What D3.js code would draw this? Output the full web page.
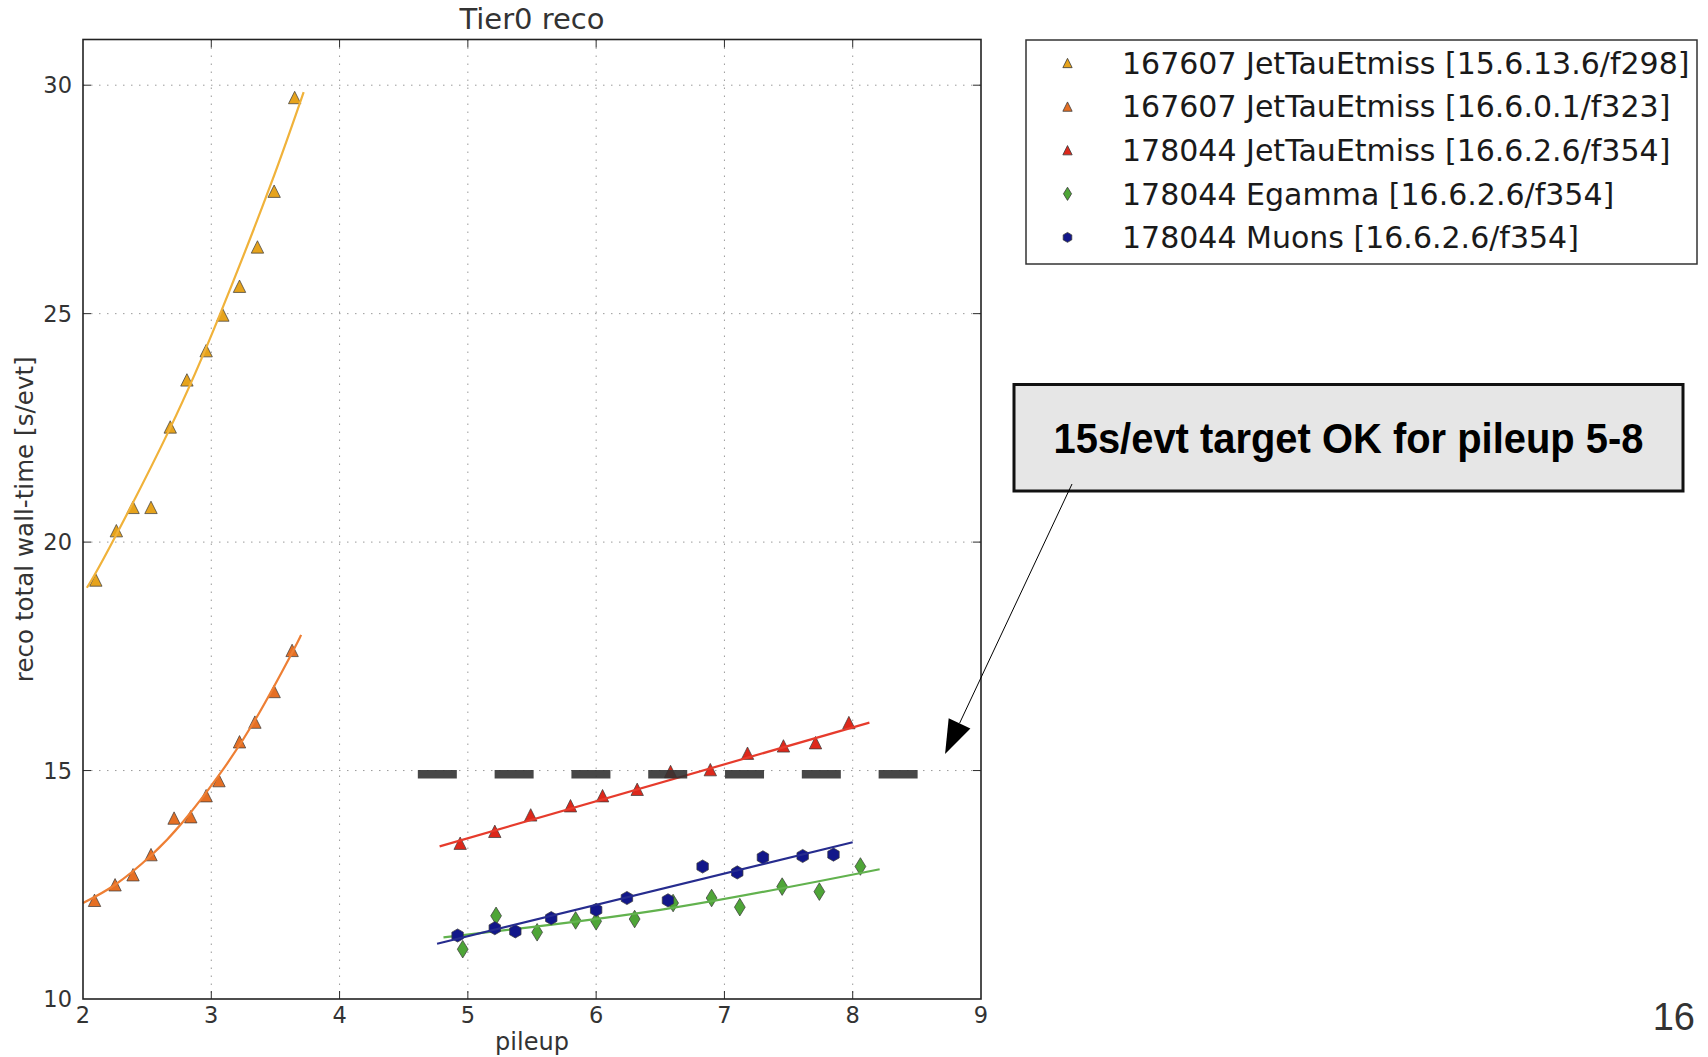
<!DOCTYPE html>
<html>
<head>
<meta charset="utf-8">
<script src="https://cdnjs.cloudflare.com/ajax/libs/d3/7.8.5/d3.min.js"></script>
<style>
  body { margin: 0; background: #fff; }
  svg { display: block; font-family: "DejaVu Sans", sans-serif; }
</style>
</head>
<body>
<svg id="chart" width="1708" height="1057"></svg>
<script>
// values
var labels = [
  '167607 JetTauEtmiss [15.6.13.6/f298]',
  '167607 JetTauEtmiss [16.6.0.1/f323]',
  '178044 JetTauEtmiss [16.6.2.6/f354]',
  '178044 Egamma [16.6.2.6/f354]',
  '178044 Muons [16.6.2.6/f354]'
];

var xTicks = [2, 3, 4, 5, 6, 7, 8, 9];
var yTicks = [10, 15, 20, 25, 30];

var jetOldX = [2.10, 2.26, 2.39, 2.53, 2.68, 2.81, 2.96, 3.09, 3.22, 3.36, 3.49, 3.65];
var jetOldY = [19.17, 20.25, 20.76, 20.76, 22.52, 23.55, 24.19, 24.97, 25.60, 26.46, 27.68, 29.73];
var jetOldFitX = [2.03, 2.21, 2.68, 3.07, 3.46, 3.72];
var jetOldFitY = [19.0, 19.9, 22.5, 25.0, 27.8, 29.85];

var jetMidX = [2.09, 2.25, 2.39, 2.53, 2.71, 2.84, 2.96, 3.06, 3.22, 3.34, 3.49, 3.63];
var jetMidY = [12.16, 12.50, 12.72, 13.16, 13.96, 13.99, 14.45, 14.78, 15.63, 16.06, 16.73, 17.63];
var jetMidFitX = [2.0, 2.25, 2.53, 2.78, 3.06, 3.34, 3.63, 3.70];
var jetMidFitY = [12.10, 12.50, 13.14, 13.88, 14.90, 16.10, 17.58, 17.97];

var jetNewX = [4.94, 5.21, 5.49, 5.80, 6.05, 6.32, 6.58, 6.89, 7.18, 7.46, 7.71, 7.97];
var jetNewY = [13.41, 13.67, 14.03, 14.23, 14.45, 14.59, 14.98, 15.02, 15.38, 15.54, 15.61, 16.05];
var jetNewFitX = [4.78, 8.13];
var jetNewFitY = [13.34, 16.05];

var egammaX = [4.96, 5.22, 5.54, 5.84, 6.00, 6.30, 6.60, 6.90, 7.12, 7.45, 7.74, 8.06];
var egammaY = [11.09, 11.82, 11.46, 11.72, 11.70, 11.75, 12.10, 12.21, 12.01, 12.46, 12.35, 12.90];
var egammaFitX = [4.81, 6.5, 8.21];
var egammaFitY = [11.35, 11.95, 12.84];

var muonsX = [4.92, 5.21, 5.37, 5.65, 6.00, 6.24, 6.56, 6.83, 7.10, 7.30, 7.61, 7.85];
var muonsY = [11.39, 11.55, 11.48, 11.77, 11.95, 12.21, 12.16, 12.90, 12.77, 13.10, 13.13, 13.16];
var muonsFitX = [4.76, 8.0];
var muonsFitY = [11.21, 13.43];

var targetX = [4.61, 8.51];
var targetY = 14.92;

var noteText = '15s/evt target OK for pileup 5-8';

var series = [
  { label: labels[0], xs: jetOldX, ys: jetOldY, fx: jetOldFitX, fy: jetOldFitY, marker: 'triangle', fill: '#e6a31c', line: '#f0b23a' },
  { label: labels[1], xs: jetMidX, ys: jetMidY, fx: jetMidFitX, fy: jetMidFitY, marker: 'triangle', fill: '#e56f24', line: '#ee7f34' },
  { label: labels[2], xs: jetNewX, ys: jetNewY, fx: jetNewFitX, fy: jetNewFitY, marker: 'triangle', fill: '#dd281b', line: '#e63b2c' },
  { label: labels[3], xs: egammaX, ys: egammaY, fx: egammaFitX, fy: egammaFitY, marker: 'diamond', fill: '#4ea537', line: '#62b24e' },
  { label: labels[4], xs: muonsX, ys: muonsY, fx: muonsFitX, fy: muonsFitY, marker: 'hexagon', fill: '#12178a', line: '#262c8e' }
];

var svg = d3.select('#chart');

// plot box in pixels (window.top is reserved, so no bare "top")
var plotLeft = 83, plotRight = 981, plotTop = 39.5, plotBottom = 999;

var x = d3.scaleLinear().domain([2, 9]).range([plotLeft, plotRight]);
var y = d3.scaleLinear().domain([10, 31]).range([plotBottom, plotTop]);

function markerPath(kind, k) {
  var s;
  if (kind === 'triangle') {
    s = 6.2 * k;
    return 'M0,' + (-s) + 'L' + s + ',' + s + 'L' + (-s) + ',' + s + 'Z';
  }
  if (kind === 'diamond') {
    var h = 8.8 * k, w = 5.4 * k;
    return 'M0,' + (-h) + 'L' + w + ',0L0,' + h + 'L' + (-w) + ',0Z';
  }
  // hexagon with a point on top
  var r = 6.6 * k;
  var pts = d3.range(6).map(function(i) {
    var a = -Math.PI / 2 + i * Math.PI / 3;
    return [r * Math.cos(a), r * Math.sin(a)];
  });
  return 'M' + pts.map(function(p) { return p[0].toFixed(2) + ',' + p[1].toFixed(2); }).join('L') + 'Z';
}

// grid
var grid = svg.append('g').attr('class', 'grid')
  .attr('stroke', '#9a9a9a')
  .attr('stroke-width', 1)
  .attr('stroke-dasharray', '1.5,6.5');

grid.selectAll('.gx').data(xTicks.slice(1, -1)).enter()
  .append('line')
  .attr('x1', function(d) { return x(d); })
  .attr('x2', function(d) { return x(d); })
  .attr('y1', plotTop)
  .attr('y2', plotBottom);

grid.selectAll('.gy').data(yTicks.slice(1)).enter()
  .append('line')
  .attr('x1', plotLeft)
  .attr('x2', plotRight)
  .attr('y1', function(d) { return y(d); })
  .attr('y2', function(d) { return y(d); });

// series: markers then fitted line
var fitLine = d3.line().curve(d3.curveNatural);

series.forEach(function(s) {
  var g = svg.append('g');

  g.selectAll('path.pt').data(s.xs).enter()
    .append('path')
    .attr('class', 'pt')
    .attr('d', markerPath(s.marker, 1))
    .attr('transform', function(d, i) { return 'translate(' + x(d) + ',' + y(s.ys[i]) + ')'; })
    .attr('fill', s.fill)
    .attr('stroke', '#3a3a3a')
    .attr('stroke-opacity', 0.8)
    .attr('stroke-width', 0.9);

  g.append('path')
    .attr('d', fitLine(s.fx.map(function(d, i) { return [x(d), y(s.fy[i])]; })))
    .attr('fill', 'none')
    .attr('stroke', s.line)
    .attr('stroke-width', 2.2);
});

// 15 s/evt target
svg.append('line')
  .attr('x1', x(targetX[0]))
  .attr('x2', x(targetX[1]))
  .attr('y1', y(targetY))
  .attr('y2', y(targetY))
  .attr('stroke', '#333')
  .attr('stroke-opacity', 0.9)
  .attr('stroke-width', 8.5)
  .attr('stroke-dasharray', '39,37.8');

// frame and inner ticks
var axes = svg.append('g').attr('stroke', '#2b2b2b').attr('stroke-width', 1);

axes.selectAll('.tx').data(xTicks.slice(1, -1)).enter()
  .append('path')
  .attr('d', function(d) {
    return 'M' + x(d) + ',' + plotBottom + 'v-8M' + x(d) + ',' + plotTop + 'v8';
  });

axes.selectAll('.ty').data(yTicks.slice(1)).enter()
  .append('path')
  .attr('d', function(d) {
    return 'M' + plotLeft + ',' + y(d) + 'h8M' + plotRight + ',' + y(d) + 'h-8';
  });

svg.append('rect')
  .attr('x', plotLeft)
  .attr('y', plotTop)
  .attr('width', plotRight - plotLeft)
  .attr('height', plotBottom - plotTop)
  .attr('fill', 'none')
  .attr('stroke', '#222')
  .attr('stroke-width', 1.6);

// tick labels
svg.append('g').selectAll('text').data(xTicks).enter()
  .append('text')
  .attr('x', function(d) { return x(d); })
  .attr('y', 1023)
  .attr('text-anchor', 'middle')
  .attr('font-size', 22.5)
  .attr('fill', '#333')
  .text(function(d) { return d; });

svg.append('g').selectAll('text').data(yTicks).enter()
  .append('text')
  .attr('x', 72)
  .attr('y', function(d) { return y(d); })
  .attr('dy', '0.36em')
  .attr('text-anchor', 'end')
  .attr('font-size', 22.5)
  .attr('fill', '#333')
  .text(function(d) { return d; });

// titles
svg.append('text')
  .attr('x', (plotLeft + plotRight) / 2)
  .attr('y', 29)
  .attr('text-anchor', 'middle')
  .attr('font-size', 29)
  .attr('fill', '#333')
  .text('Tier0 reco');

svg.append('text')
  .attr('x', (plotLeft + plotRight) / 2)
  .attr('y', 1050)
  .attr('text-anchor', 'middle')
  .attr('font-size', 24)
  .attr('fill', '#333')
  .text('pileup');

svg.append('text')
  .attr('transform', 'translate(33,' + (plotTop + plotBottom) / 2 + ') rotate(-90)')
  .attr('text-anchor', 'middle')
  .attr('font-size', 24.6)
  .attr('fill', '#333')
  .text('reco total wall-time [s/evt]');

// legend
var legend = svg.append('g').attr('transform', 'translate(1026,40)');

legend.append('rect')
  .attr('width', 671)
  .attr('height', 224)
  .attr('fill', '#fff')
  .attr('stroke', '#333')
  .attr('stroke-width', 1.5);

var row = legend.selectAll('.row').data(series).enter()
  .append('g')
  .attr('class', 'row')
  .attr('transform', function(d, i) { return 'translate(0,' + (23 + i * 43.6) + ')'; });

row.append('path')
  .attr('d', function(d) { return markerPath(d.marker, 0.75); })
  .attr('transform', 'translate(41.5,0)')
  .attr('fill', function(d) { return d.fill; })
  .attr('stroke', '#3a3a3a')
  .attr('stroke-width', 0.8);

row.append('text')
  .attr('x', 96)
  .attr('dy', '0.36em')
  .attr('font-size', 30)
  .attr('fill', '#1a1a1a')
  .text(function(d) { return d.label; });

// annotation box with arrow into the plot
var note = svg.append('g');

note.append('rect')
  .attr('x', 1014)
  .attr('y', 384.5)
  .attr('width', 669)
  .attr('height', 106.5)
  .attr('fill', '#e6e6e6')
  .attr('stroke', '#111')
  .attr('stroke-width', 3);

note.append('text')
  .attr('x', 1348.5)
  .attr('y', 453)
  .attr('text-anchor', 'middle')
  .attr('font-family', '"Liberation Sans", Arial, sans-serif')
  .attr('font-weight', 'bold')
  .attr('font-size', 43)
  .attr('textLength', 590)
  .attr('lengthAdjust', 'spacingAndGlyphs')
  .attr('fill', '#000')
  .text(noteText);

var tail = [1072, 484];
var tip = [x(8.72), y(15.36)];
var dx = tip[0] - tail[0], dy = tip[1] - tail[1];
var len = Math.sqrt(dx * dx + dy * dy);
var ux = dx / len, uy = dy / len;
var headLen = 34, headW = 12;
var base = [tip[0] - ux * headLen, tip[1] - uy * headLen];

note.append('line')
  .attr('x1', tail[0])
  .attr('y1', tail[1])
  .attr('x2', base[0])
  .attr('y2', base[1])
  .attr('stroke', '#000')
  .attr('stroke-width', 1);

note.append('path')
  .attr('d', 'M' + tip[0] + ',' + tip[1] +
    'L' + (base[0] - uy * headW) + ',' + (base[1] + ux * headW) +
    'L' + (base[0] + uy * headW) + ',' + (base[1] - ux * headW) + 'Z')
  .attr('fill', '#000');

// slide number
svg.append('text')
  .attr('x', 1695)
  .attr('y', 1030)
  .attr('text-anchor', 'end')
  .attr('font-family', '"Liberation Sans", Arial, sans-serif')
  .attr('font-size', 38)
  .attr('fill', '#333')
  .text('16');
</script>
</body>
</html>
